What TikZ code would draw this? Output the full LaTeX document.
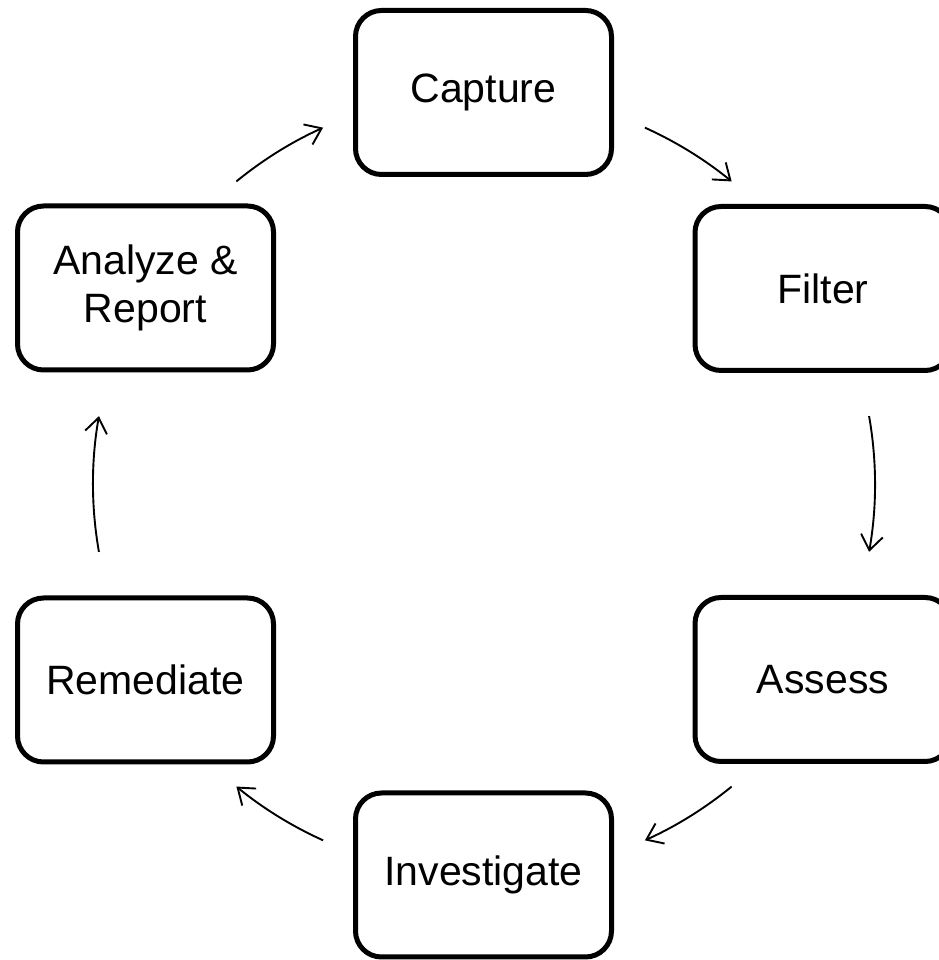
\documentclass[tikz,border=0pt]{standalone}
\usepackage{fontspec}
\setmainfont{Liberation Sans}
\usetikzlibrary{arrows.meta,calc}
\begin{document}
\begin{tikzpicture}[x=1pt,y=1pt,
  stage/.style={draw=black, line width=5pt, rounded corners=26pt, fill=white,
    minimum width=256pt, minimum height=164pt, align=center,
    font=\fontsize{41}{48}\selectfont, inner sep=0pt},
  cyc/.style={line width=1.9pt, -{Straight Barb[length=15pt,width=22pt,line width=1.9pt]}}]
\useasboundingbox (0,0) rectangle (938,960);
\coordinate (ctr) at (484,476);
\node[stage] (capture) at (483.5,867.5) {Capture};
\node[stage] (filter) at (823,671.5) {Filter};
\node[stage] (assess) at (823,280.5) {Assess};
\node[stage] (investigate) at (483.5,85) {Investigate};
\node[stage] (remediate) at (145.5,280) {Remediate};
\node[stage] (analyze) at (145.5,672) {Analyze \&\\Report};
\def\R{391}
\coordinate (s1) at ($(ctr)+(65.7:\R)$);
\coordinate (s2) at ($(ctr)+(10:\R)$);
\coordinate (s3) at ($(ctr)+(-50.7:\R)$);
\coordinate (s4) at ($(ctr)+(-114.3:\R)$);
\coordinate (s5) at ($(ctr)+(190:\R)$);
\coordinate (s6) at ($(ctr)+(129.3:\R)$);
\draw[cyc] (s1) arc[start angle=65.7, end angle=50.7, radius=\R];
\draw[cyc] (s2) arc[start angle=10, end angle=-10, radius=\R];
\draw[cyc] (s3) arc[start angle=-50.7, end angle=-65.7, radius=\R];
\draw[cyc] (s4) arc[start angle=-114.3, end angle=-129.3, radius=\R];
\draw[cyc] (s5) arc[start angle=190, end angle=170, radius=\R];
\draw[cyc] (s6) arc[start angle=129.3, end angle=114.3, radius=\R];
\end{tikzpicture}
\end{document}
